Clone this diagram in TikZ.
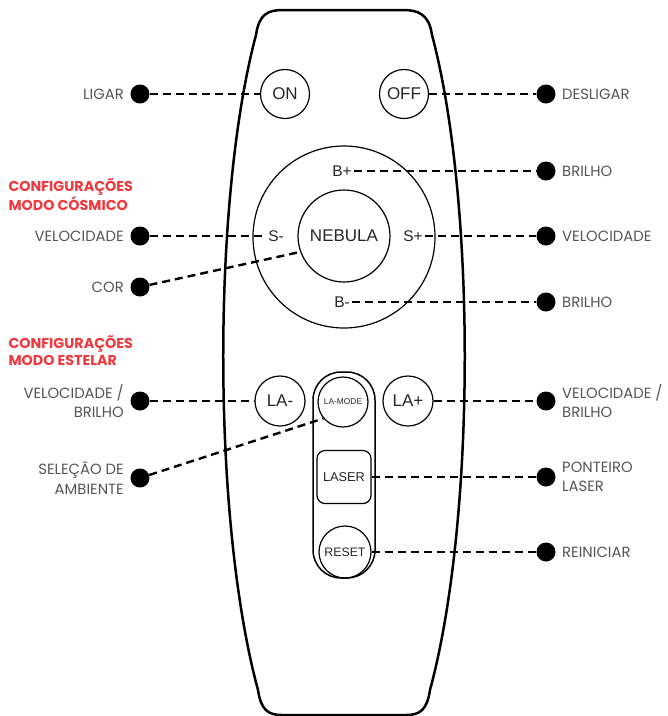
\documentclass[tikz,border=0pt]{standalone}
\usepackage{fontspec}
\setmainfont{Poppins}
\newfontfamily\btnfont{Liberation Sans}
\usetikzlibrary{positioning}
\definecolor{headred}{HTML}{F0383F}
\definecolor{lblgray}{HTML}{555555}

\begin{document}
\begin{tikzpicture}[x=1pt,y=-1pt,
    dot/.style={circle,fill=black,minimum size=19pt,inner sep=0pt},
    btn/.style={circle,draw,line width=1.2pt,minimum size=49pt,inner sep=0pt,text=black!85,font=\btnfont\fontsize{17}{17}\selectfont},
    keytxt/.style={inner sep=2pt,text=black!85,font=\btnfont\fontsize{15.5}{16}\selectfont},
    lead/.style={dash pattern=on 8pt off 5pt,line width=2.4pt},
    lbl/.style={align=right,text=lblgray,font=\fontsize{14.8}{19.5}\selectfont},
    head/.style={anchor=west,align=left,text=headred,font=\bfseries\fontsize{14.3}{17}\selectfont}]
    \useasboundingbox (0,0) rectangle (668,716);

    % remote body
    \draw[line width=2.5pt] (283,10) -- (403,10)
        .. controls (418,10) and (429,14) .. (432,35)
        .. controls (476,200) and (476,520) .. (430,690)
        .. controls (427,710) and (420,715) .. (406,715) -- (282,715)
        .. controls (268,715) and (261,710) .. (258,690)
        .. controls (212,520) and (212,200) .. (256,35)
        .. controls (259,14) and (268,10) .. cycle;

    % power buttons
    \node[btn] (on) at (285,94) {ON};
    \node[btn] (off) at (404,94) {OFF};

    % cosmic pad
    \node[circle,draw,line width=1.2pt,minimum size=182pt] (pad) at (344,237) {};
    \node[btn,minimum size=92pt] (nebula) at (344,236) {NEBULA};
    \node[keytxt] (bplus) at (342,171) {B+};
    \node[keytxt] (bminus) at (342,302) {B-};
    \node[keytxt] (sminus) at (276,236) {S-};
    \node[keytxt] (splus) at (413,236) {S+};

    % stellar buttons
    \node[btn,minimum size=50pt] (laminus) at (280,401) {LA-};
    \node[btn,minimum size=50pt] (laplus) at (408,401) {LA+};
    \node[draw,line width=1.5pt,rounded corners=28pt,minimum width=62pt,minimum height=206pt] (pill) at (344,475) {};
    \node[btn,minimum size=50pt,font=\btnfont\fontsize{8.4}{9}\selectfont] (lamode) at (343,402) {LA-MODE};
    \node[draw,line width=1.2pt,rounded corners=8pt,minimum width=54pt,minimum height=53pt,inner sep=0pt,text=black!85,font=\btnfont\fontsize{12.8}{13}\selectfont] (laser) at (344,477) {LASER};
    \node[btn,minimum size=52pt,font=\btnfont\fontsize{12.3}{13}\selectfont] (reset) at (345,552) {RESET};

    % left dots
    \node[dot] (dLigar) at (140,94) {};
    \node[dot] (dVelA) at (140,236) {};
    \node[dot] (dCor) at (140,287) {};
    \node[dot] (dVelB) at (140,401) {};
    \node[dot] (dAmb) at (140,478) {};

    % right dots
    \node[dot] (dDesligar) at (546,94) {};
    \node[dot] (dBrilhoA) at (546,171) {};
    \node[dot] (dVelC) at (546,236) {};
    \node[dot] (dBrilhoB) at (546,302) {};
    \node[dot] (dVelD) at (546,401) {};
    \node[dot] (dLaser) at (546,477) {};
    \node[dot] (dReset) at (546,552) {};

    % labels
    \node[lbl,left=3pt of dLigar] (tLigar) {LIGAR};
    \node[lbl,left=3pt of dVelA] (tVelA) {VELOCIDADE};
    \node[lbl,left=3pt of dCor] (tCor) {COR};
    \node[lbl,left=3pt of dVelB] (tVelB) {VELOCIDADE /\\BRILHO};
    \node[lbl,left=3pt of dAmb] (tAmb) {SELEÇÃO DE\\AMBIENTE};
    \node[lbl,align=left,right=3pt of dDesligar] (tDesligar) {DESLIGAR};
    \node[lbl,align=left,right=3pt of dBrilhoA] (tBrilhoA) {BRILHO};
    \node[lbl,align=left,right=3pt of dVelC] (tVelC) {VELOCIDADE};
    \node[lbl,align=left,right=3pt of dBrilhoB] (tBrilhoB) {BRILHO};
    \node[lbl,align=left,right=3pt of dVelD] (tVelD) {VELOCIDADE /\\BRILHO};
    \node[lbl,align=left,right=3pt of dLaser] (tLaser) {PONTEIRO\\LASER};
    \node[lbl,align=left,right=3pt of dReset] (tReset) {REINICIAR};

    % headings
    \node[head] (hCosmico) at (5,195) {CONFIGURAÇÕES\\MODO CÓSMICO};
    \node[head] (hEstelar) at (5,351) {CONFIGURAÇÕES\\MODO ESTELAR};

    % leaders
    \draw[lead] (dLigar) -- (on);
    \draw[lead] (off) -- (dDesligar);
    \draw[lead] (bplus) -- (dBrilhoA);
    \draw[lead] (dVelA) -- (sminus);
    \draw[lead] (splus) -- (dVelC);
    \draw[lead] (dCor) -- (nebula.200);
    \draw[lead] (bminus) -- (dBrilhoB);
    \draw[lead] (dVelB) -- (laminus);
    \draw[lead] (laplus) -- (dVelD);
    \draw[lead] (dAmb) -- (lamode.220);
    \draw[lead] (laser) -- (dLaser);
    \draw[lead] (reset) -- (dReset);
\end{tikzpicture}
\end{document}
